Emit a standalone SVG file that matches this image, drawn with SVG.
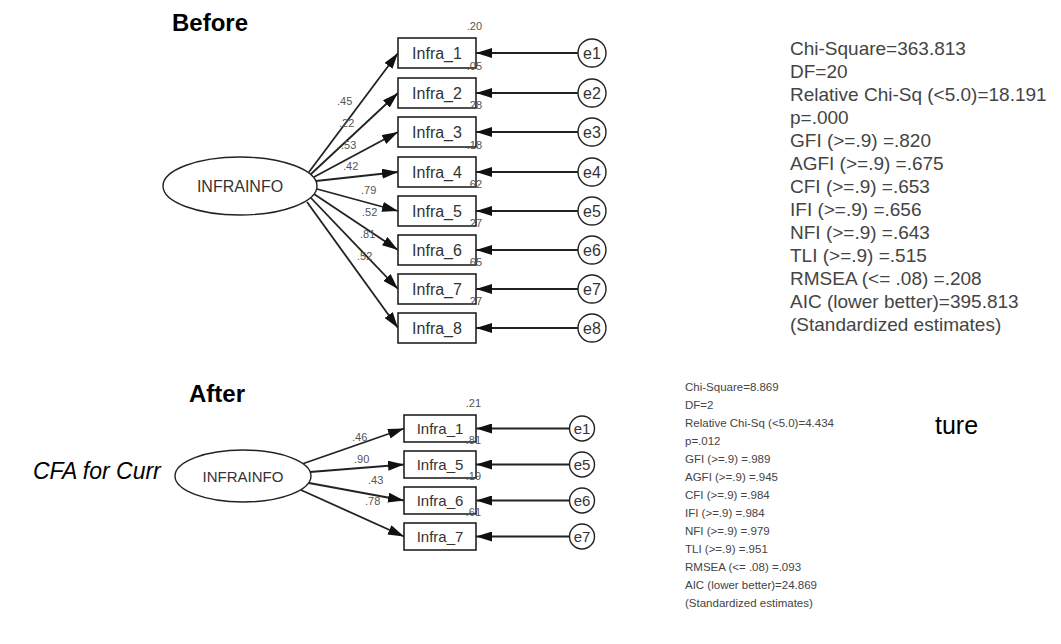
<svg xmlns="http://www.w3.org/2000/svg" width="1061" height="644" viewBox="0 0 1061 644">
<style>
.bg{fill:#ffffff}
.title{font-family:"Liberation Sans",Arial,sans-serif;font-weight:bold;font-size:24px;fill:#000}
.box{fill:#fff;stroke:#222;stroke-width:1.6}
.lat{fill:#fff;stroke:#222;stroke-width:1.4}
.err{fill:#fff;stroke:#222;stroke-width:1.4}
.lbl{font-family:"Liberation Sans",Arial,sans-serif;fill:#333;text-anchor:middle}
.num{font-family:"Liberation Sans",Arial,sans-serif;fill:#555;font-size:11px}
.r2{font-family:"Liberation Sans",Arial,sans-serif;fill:#555;font-size:11px;text-anchor:end}
.arr{stroke:#222;stroke-width:1.8;fill:none;marker-end:url(#ah)}
.stat{font-family:"Liberation Sans",Arial,sans-serif;fill:#444}
.slide{font-family:"Liberation Sans",Arial,sans-serif;fill:#000}
</style>
<defs>
<marker id="ah" markerWidth="16" markerHeight="10" refX="16" refY="5" orient="auto" markerUnits="userSpaceOnUse">
<path d="M0,0 L16,5 L0,10 Z" fill="#111"/>
</marker>
</defs>
<rect class="bg" x="0" y="0" width="1061" height="644"/>

<text class="title" x="172" y="31">Before</text>
<text class="title" x="189" y="402">After</text>
<text class="slide" x="33" y="479" font-size="23" font-style="italic">CFA for Curr</text>
<text class="slide" x="935" y="434" font-size="25">ture</text>

<g id="connectors">
<!-- Before loadings -->
<line class="arr" x1="309" y1="172" x2="398" y2="53"/>
<line class="arr" x1="311" y1="174" x2="398" y2="93"/>
<line class="arr" x1="314" y1="177" x2="398" y2="132"/>
<line class="arr" x1="316" y1="181" x2="398" y2="172"/>
<line class="arr" x1="317" y1="189" x2="398" y2="211"/>
<line class="arr" x1="314" y1="194" x2="398" y2="250"/>
<line class="arr" x1="311" y1="198" x2="398" y2="289"/>
<line class="arr" x1="307" y1="202" x2="398" y2="328"/>
<!-- Before errors -->
<line class="arr" x1="578" y1="53" x2="476" y2="53"/>
<line class="arr" x1="578" y1="93" x2="476" y2="93"/>
<line class="arr" x1="578" y1="132" x2="476" y2="132"/>
<line class="arr" x1="578" y1="172" x2="476" y2="172"/>
<line class="arr" x1="578" y1="211" x2="476" y2="211"/>
<line class="arr" x1="578" y1="250" x2="476" y2="250"/>
<line class="arr" x1="578" y1="289" x2="476" y2="289"/>
<line class="arr" x1="578" y1="328" x2="476" y2="328"/>
<!-- After loadings -->
<line class="arr" x1="302" y1="464" x2="404" y2="428.5"/>
<line class="arr" x1="310" y1="472" x2="404" y2="464.5"/>
<line class="arr" x1="309" y1="483" x2="404" y2="500.5"/>
<line class="arr" x1="301" y1="490" x2="404" y2="536.5"/>
<!-- After errors -->
<line class="arr" x1="570" y1="428.5" x2="476" y2="428.5"/>
<line class="arr" x1="570" y1="464.5" x2="476" y2="464.5"/>
<line class="arr" x1="570" y1="500.5" x2="476" y2="500.5"/>
<line class="arr" x1="570" y1="536.5" x2="476" y2="536.5"/>
</g>

<!-- Before nodes -->
<g id="b_infrainfo"><ellipse class="lat" cx="240" cy="186" rx="77" ry="29"/><text class="lbl" x="240" y="192" font-size="16">INFRAINFO</text></g>
<g id="b_infra1"><rect class="box" x="398" y="38" width="78" height="30"/><text class="lbl" x="437" y="59" font-size="16">Infra_1</text></g>
<g id="b_infra2"><rect class="box" x="398" y="78" width="78" height="30"/><text class="lbl" x="437" y="99" font-size="16">Infra_2</text></g>
<g id="b_infra3"><rect class="box" x="398" y="117" width="78" height="30"/><text class="lbl" x="437" y="138" font-size="16">Infra_3</text></g>
<g id="b_infra4"><rect class="box" x="398" y="157" width="78" height="30"/><text class="lbl" x="437" y="178" font-size="16">Infra_4</text></g>
<g id="b_infra5"><rect class="box" x="398" y="196" width="78" height="30"/><text class="lbl" x="437" y="217" font-size="16">Infra_5</text></g>
<g id="b_infra6"><rect class="box" x="398" y="235" width="78" height="30"/><text class="lbl" x="437" y="256" font-size="16">Infra_6</text></g>
<g id="b_infra7"><rect class="box" x="398" y="274" width="78" height="30"/><text class="lbl" x="437" y="295" font-size="16">Infra_7</text></g>
<g id="b_infra8"><rect class="box" x="398" y="313" width="78" height="30"/><text class="lbl" x="437" y="334" font-size="16">Infra_8</text></g>
<g id="b_e1"><circle class="err" cx="592" cy="53" r="14"/><text class="lbl" x="592" y="59" font-size="16">e1</text></g>
<g id="b_e2"><circle class="err" cx="592" cy="93" r="14"/><text class="lbl" x="592" y="99" font-size="16">e2</text></g>
<g id="b_e3"><circle class="err" cx="592" cy="132" r="14"/><text class="lbl" x="592" y="138" font-size="16">e3</text></g>
<g id="b_e4"><circle class="err" cx="592" cy="172" r="14"/><text class="lbl" x="592" y="178" font-size="16">e4</text></g>
<g id="b_e5"><circle class="err" cx="592" cy="211" r="14"/><text class="lbl" x="592" y="217" font-size="16">e5</text></g>
<g id="b_e6"><circle class="err" cx="592" cy="250" r="14"/><text class="lbl" x="592" y="256" font-size="16">e6</text></g>
<g id="b_e7"><circle class="err" cx="592" cy="289" r="14"/><text class="lbl" x="592" y="295" font-size="16">e7</text></g>
<g id="b_e8"><circle class="err" cx="592" cy="328" r="14"/><text class="lbl" x="592" y="334" font-size="16">e8</text></g>

<g id="b_loadings">
<text class="num" x="337" y="105">.45</text>
<text class="num" x="339" y="127">.22</text>
<text class="num" x="341" y="149">.53</text>
<text class="num" x="343" y="170">.42</text>
<text class="num" x="361" y="194">.79</text>
<text class="num" x="362" y="216">.52</text>
<text class="num" x="360" y="238">.81</text>
<text class="num" x="357" y="260">.52</text>
</g>
<g id="b_r2">
<text class="r2" x="482" y="30">.20</text>
<text class="r2" x="482" y="70">.05</text>
<text class="r2" x="482" y="109">.28</text>
<text class="r2" x="482" y="149">.18</text>
<text class="r2" x="482" y="188">.62</text>
<text class="r2" x="482" y="227">.27</text>
<text class="r2" x="482" y="266">.65</text>
<text class="r2" x="482" y="305">.27</text>
</g>

<g id="b_stats" class="stat" font-size="19">
<text x="790" y="55">Chi-Square=363.813</text>
<text x="790" y="78">DF=20</text>
<text x="790" y="101">Relative Chi-Sq (&lt;5.0)=18.191</text>
<text x="790" y="124">p=.000</text>
<text x="790" y="147">GFI (&gt;=.9) =.820</text>
<text x="790" y="170">AGFI (&gt;=.9) =.675</text>
<text x="790" y="193">CFI (&gt;=.9) =.653</text>
<text x="790" y="216">IFI (&gt;=.9) =.656</text>
<text x="790" y="239">NFI (&gt;=.9) =.643</text>
<text x="790" y="262">TLI (&gt;=.9) =.515</text>
<text x="790" y="285">RMSEA (&lt;= .08) =.208</text>
<text x="790" y="308">AIC (lower better)=395.813</text>
<text x="790" y="331">(Standardized estimates)</text>
</g>

<!-- After nodes -->
<g id="a_infrainfo"><ellipse class="lat" cx="243" cy="476" rx="68" ry="26"/><text class="lbl" x="243" y="482" font-size="15">INFRAINFO</text></g>
<g id="a_infra1"><rect class="box" x="404" y="415" width="72" height="27"/><text class="lbl" x="440" y="434" font-size="15">Infra_1</text></g>
<g id="a_infra5"><rect class="box" x="404" y="451" width="72" height="27"/><text class="lbl" x="440" y="470" font-size="15">Infra_5</text></g>
<g id="a_infra6"><rect class="box" x="404" y="487" width="72" height="27"/><text class="lbl" x="440" y="506" font-size="15">Infra_6</text></g>
<g id="a_infra7"><rect class="box" x="404" y="523" width="72" height="27"/><text class="lbl" x="440" y="542" font-size="15">Infra_7</text></g>
<g id="a_e1"><circle class="err" cx="582" cy="428.5" r="12.5"/><text class="lbl" x="582" y="434" font-size="15">e1</text></g>
<g id="a_e5"><circle class="err" cx="582" cy="464.5" r="12.5"/><text class="lbl" x="582" y="470" font-size="15">e5</text></g>
<g id="a_e6"><circle class="err" cx="582" cy="500.5" r="12.5"/><text class="lbl" x="582" y="506" font-size="15">e6</text></g>
<g id="a_e7"><circle class="err" cx="582" cy="536.5" r="12.5"/><text class="lbl" x="582" y="542" font-size="15">e7</text></g>

<g id="a_loadings">
<text class="num" x="352" y="441">.46</text>
<text class="num" x="354" y="463">.90</text>
<text class="num" x="368" y="484">.43</text>
<text class="num" x="365" y="505">.78</text>
</g>
<g id="a_r2">
<text class="r2" x="481" y="407">.21</text>
<text class="r2" x="481" y="444">.81</text>
<text class="r2" x="481" y="480">.19</text>
<text class="r2" x="481" y="516">.61</text>
</g>

<g id="a_stats" class="stat" font-size="11.5">
<text x="685" y="391">Chi-Square=8.869</text>
<text x="685" y="409">DF=2</text>
<text x="685" y="427">Relative Chi-Sq (&lt;5.0)=4.434</text>
<text x="685" y="445">p=.012</text>
<text x="685" y="463">GFI (&gt;=.9) =.989</text>
<text x="685" y="481">AGFI (&gt;=.9) =.945</text>
<text x="685" y="499">CFI (&gt;=.9) =.984</text>
<text x="685" y="517">IFI (&gt;=.9) =.984</text>
<text x="685" y="535">NFI (&gt;=.9) =.979</text>
<text x="685" y="553">TLI (&gt;=.9) =.951</text>
<text x="685" y="571">RMSEA (&lt;= .08) =.093</text>
<text x="685" y="589">AIC (lower better)=24.869</text>
<text x="685" y="607">(Standardized estimates)</text>
</g>
</svg>
